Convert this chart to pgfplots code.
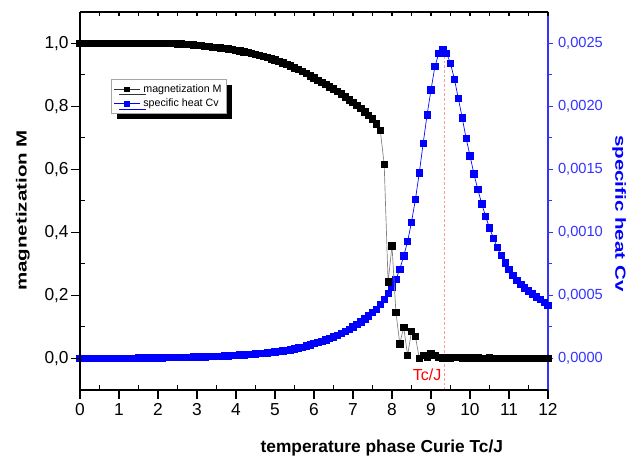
\documentclass[border=0pt]{standalone}
\usepackage{pgfplots}
\pgfplotsset{compat=1.18}
\usepackage{fontspec}
\setmainfont{Liberation Sans}
\usetikzlibrary{shadows}

% specific heat Cv (right axis)
\pgfplotstableread{
x cv
0.0 0.0000000
0.1 0.0000001
0.2 0.0000002
0.3 0.0000003
0.4 0.0000005
0.5 0.0000007
0.6 0.0000009
0.7 0.0000011
0.8 0.0000014
0.9 0.0000017
1.0 0.0000020
1.1 0.0000023
1.2 0.0000026
1.3 0.0000030
1.4 0.0000034
1.5 0.0000038
1.6 0.0000042
1.7 0.0000046
1.8 0.0000050
1.9 0.0000055
2.0 0.0000060
2.1 0.0000065
2.2 0.0000070
2.3 0.0000076
2.4 0.0000082
2.5 0.0000088
2.6 0.0000095
2.7 0.0000102
2.8 0.0000109
2.9 0.0000117
3.0 0.0000125
3.1 0.0000134
3.2 0.0000143
3.3 0.0000153
3.4 0.0000163
3.5 0.0000174
3.6 0.0000188
3.7 0.0000204
3.8 0.0000221
3.9 0.0000240
4.0 0.0000260
4.1 0.0000280
4.2 0.0000300
4.3 0.0000320
4.4 0.0000340
4.5 0.0000370
4.6 0.0000400
4.7 0.0000430
4.8 0.0000460
4.9 0.0000490
5.0 0.0000520
5.1 0.0000560
5.2 0.0000600
5.3 0.0000650
5.4 0.0000700
5.5 0.0000760
5.6 0.0000830
5.7 0.0000900
5.8 0.0000990
5.9 0.0001090
6.0 0.0001200
6.1 0.0001290
6.2 0.0001380
6.3 0.0001480
6.4 0.0001590
6.5 0.0001710
6.6 0.0001840
6.7 0.0001980
6.8 0.0002140
6.9 0.0002310
7.0 0.0002500
7.1 0.0002700
7.2 0.0002910
7.3 0.0003140
7.4 0.0003380
7.5 0.0003640
7.6 0.0003920
7.7 0.0004280
7.8 0.0004700
7.9 0.0005150
8.0 0.0005670
8.1 0.0006260
8.2 0.0007080
8.3 0.0008130
8.4 0.0009270
8.5 0.0010820
8.6 0.0012600
8.7 0.0014730
8.8 0.0017080
8.9 0.0019330
9.0 0.0021300
9.1 0.0023150
9.2 0.0024200
9.3 0.0024480
9.4 0.0024200
9.5 0.0023410
9.6 0.0022150
9.7 0.0020640
9.8 0.0019090
9.9 0.0017470
10.0 0.0016080
10.1 0.0014650
10.2 0.0013410
10.3 0.0012280
10.4 0.0011270
10.5 0.0010350
10.6 0.0009550
10.7 0.0008800
10.8 0.0008160
10.9 0.0007600
11.0 0.0007070
11.1 0.0006600
11.2 0.0006200
11.3 0.0005880
11.4 0.0005600
11.5 0.0005360
11.6 0.0005120
11.7 0.0004900
11.8 0.0004680
11.9 0.0004450
12.0 0.0004220
}\cvdata

% magnetization M (left axis)
\pgfplotstableread{
x m
0.0 1.000
0.1 1.000
0.2 1.000
0.3 1.000
0.4 1.000
0.5 1.000
0.6 1.000
0.7 1.000
0.8 1.000
0.9 1.000
1.0 1.000
1.1 1.000
1.2 1.000
1.3 1.000
1.4 1.000
1.5 1.000
1.6 1.000
1.7 1.000
1.8 1.000
1.9 1.000
2.0 1.000
2.1 1.000
2.2 0.999
2.3 0.999
2.4 0.999
2.5 0.998
2.6 0.998
2.7 0.997
2.8 0.996
2.9 0.995
3.0 0.994
3.1 0.993
3.2 0.991
3.3 0.990
3.4 0.988
3.5 0.987
3.6 0.985
3.7 0.984
3.8 0.982
3.9 0.980
4.0 0.978
4.1 0.976
4.2 0.973
4.3 0.971
4.4 0.968
4.5 0.965
4.6 0.962
4.7 0.958
4.8 0.955
4.9 0.951
5.0 0.947
5.1 0.942
5.2 0.938
5.3 0.933
5.4 0.928
5.5 0.922
5.6 0.917
5.7 0.911
5.8 0.904
5.9 0.897
6.0 0.890
6.1 0.883
6.2 0.876
6.3 0.869
6.4 0.862
6.5 0.855
6.6 0.847
6.7 0.839
6.8 0.830
6.9 0.821
7.0 0.812
7.1 0.803
7.2 0.793
7.3 0.783
7.4 0.772
7.5 0.760
7.6 0.744
7.7 0.723
7.8 0.616
7.9 0.243
8.0 0.357
8.1 0.147
8.2 0.047
8.3 0.099
8.4 0.010
8.5 0.086
8.6 0.070
8.7 0.000
8.8 0.010
8.9 0.004
9.0 0.016
9.1 0.010
9.2 0.004
9.3 0.000
9.4 0.003
9.5 0.002
9.6 0.004
9.7 0.003
9.8 0.002
9.9 0.001
10.0 0.002
10.1 0.001
10.2 0.002
10.3 0.001
10.4 0.001
10.5 0.002
10.6 0.001
10.7 0.001
10.8 0.001
10.9 0.001
11.0 0.001
11.1 0.001
11.2 0.001
11.3 0.000
11.4 0.001
11.5 0.000
11.6 0.000
11.7 0.001
11.8 0.000
11.9 0.000
12.0 0.000
}\mdata

\pgfplotsset{
  base/.style={
    scale only axis,
    width=351pt, height=283.7pt,
    xmin=0, xmax=12,
    /pgf/number format/assume math mode=true,
    axis line style={line width=1.3pt},
  },
}

\begin{document}
\begin{tikzpicture}
% right axis: specific heat
\begin{axis}[base,
    axis x line=none,
    axis y line*=right,
    ymin=-0.00025, ymax=0.00275,
    ytick={0,0.0005,0.001,0.0015,0.002,0.0025},
    minor y tick num=1,
    scaled y ticks=false,
    tick align=outside,
    major tick length=4pt, minor tick length=3pt,
    y axis line style={blue!80, line width=1.1pt},
    ytick style={blue!80, line width=0.8pt},
    yticklabel style={blue!80, font=\fontsize{11}{13}\selectfont,
      /pgf/number format/.cd, fixed, fixed zerofill, precision=4, use comma},
    ylabel={\scalebox{1.4}[1]{specific heat Cv}},
    ylabel style={blue, font=\fontsize{11}{13}\selectfont\bfseries,
      at={(axis description cs:1.152,0.467)}, anchor=center, rotate=180},
]
\addplot[red!40, line width=0.7pt, dash pattern=on 2pt off 1.5pt, forget plot]
  coordinates {(9.34,-0.00025) (9.34,0.00244)};
\addplot[blue, line width=0.5pt, mark=square*, mark size=2.4pt,
  mark options={blue, fill=blue}] table[x=x, y=cv] {\cvdata};
\end{axis}

% top axis ticks
\begin{axis}[base,
    axis x line*=top,
    axis y line=none,
    ymin=0, ymax=1,
    xtick={0,1,...,12},
    minor x tick num=1,
    xticklabels={},
    tick align=inside,
    major tick length=3.5pt, minor tick length=3.5pt,
    tick style={black, line width=0.8pt},
]
\end{axis}

% left axis: magnetization
\begin{axis}[base,
    name=mag,
    axis x line*=bottom,
    axis y line*=left,
    ymin=-0.1, ymax=1.1,
    ytick={0,0.2,0.4,0.6,0.8,1.0},
    xtick={0,1,...,12},
    minor x tick num=1,
    minor y tick num=1,
    tick align=inside,
    major tick length=-7pt, minor tick length=3.5pt,
    tick style={black, line width=0.8pt},
    tick label style={font=\fontsize{13}{15}\selectfont},
    xticklabel style={yshift=-6.5pt},
    yticklabel style={xshift=-5pt, /pgf/number format/.cd, fixed, fixed zerofill, precision=1, use comma},
    xlabel={temperature phase Curie Tc/J},
    xlabel style={font=\fontsize{13}{15}\selectfont\bfseries,
      at={(axis description cs:0.645,-0.153)}, anchor=center},
    ylabel={\scalebox{1.4}[1]{magnetization M}},
    ylabel style={font=\fontsize{11}{13}\selectfont\bfseries,
      at={(axis description cs:-0.122,0.4745)}, anchor=center},
    clip=false,
    legend style={at={(axis description cs:0.066,0.822)}, anchor=north west,
      font=\fontsize{8}{9.5}\selectfont, draw=gray!70, line width=0.5pt,
      fill=white, inner sep=1.8pt, row sep=-0.5pt,
      drop shadow={shadow xshift=4pt, shadow yshift=-4pt, fill=black, opacity=1}},
    legend cell align=left,
    legend image code/.code={
      \draw[mark repeat=2, mark phase=2, #1]
        plot coordinates {(0cm,0cm) (0.35cm,0cm) (0.7cm,0cm)};},
]
\addplot[gray, line width=0.5pt, mark=square*, mark size=2.4pt,
  mark options={black, fill=black}, forget plot] table[x=x, y=m] {\mdata};
\addlegendimage{black!80, line width=0.4pt, mark=square*, mark size=1.8pt, mark options={black, fill=black}}
\addlegendentry{magnetization M}
\addlegendimage{blue, line width=0.4pt, mark=square*, mark size=1.8pt, mark options={blue, fill=blue}}
\addlegendentry{specific heat Cv}
\node[red, font=\fontsize{12}{14}\selectfont] at (axis cs:8.9,-0.053) {Tc/J};
\end{axis}
\path ([xshift=-60pt,yshift=-55.5pt]mag.south west) rectangle ([xshift=69pt,yshift=8.8pt]mag.north east);
\end{tikzpicture}
\end{document}
